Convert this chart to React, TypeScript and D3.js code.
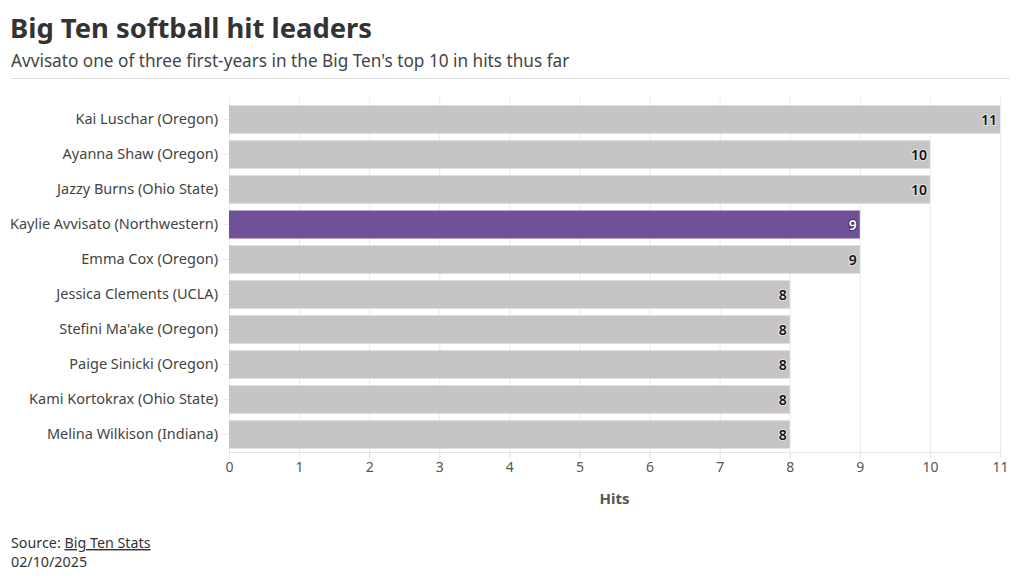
import React, { useEffect, useRef } from 'react'
import * as d3 from 'd3'

const WIDTH = 1020
const HEIGHT = 582

const players = [
  'Kai Luschar (Oregon)',
  'Ayanna Shaw (Oregon)',
  'Jazzy Burns (Ohio State)',
  'Kaylie Avvisato (Northwestern)',
  'Emma Cox (Oregon)',
  'Jessica Clements (UCLA)',
  "Stefini Ma'ake (Oregon)",
  'Paige Sinicki (Oregon)',
  'Kami Kortokrax (Ohio State)',
  'Melina Wilkison (Indiana)',
]
const hits = [11, 10, 10, 9, 9, 8, 8, 8, 8, 8]
const highlight = 'Kaylie Avvisato (Northwestern)'
const xTicks = [0, 1, 2, 3, 4, 5, 6, 7, 8, 9, 10, 11]

const FONT = '"Noto Sans", "Open Sans", sans-serif'
const GRAY = '#c6c4c6'
const PURPLE = '#6f5099'

const App = () => {
  const ref = useRef<SVGSVGElement>(null)

  useEffect(() => {
    const svg = d3.select(ref.current)
    svg.selectAll('*').remove()

    const margin = { left: 229, right: 20, top: 102, bottom: 130 }
    const data = players.map((name, i) => ({ name, value: hits[i] }))

    const x = d3.scaleLinear().domain([0, 11]).range([margin.left, WIDTH - margin.right])
    const y = d3.scaleBand()
      .domain(players)
      .range([margin.top, HEIGHT - margin.bottom])
      .paddingInner(0.2)
      .paddingOuter(0.1)

    // header
    svg.append('text')
      .attr('x', 10).attr('y', 38)
      .attr('font-size', 27.4).attr('font-weight', 700)
      .attr('fill', '#333')
      .text('Big Ten softball hit leaders')
    svg.append('text')
      .attr('x', 11).attr('y', 67)
      .attr('font-size', 17.2)
      .attr('fill', '#444')
      .text("Avvisato one of three first-years in the Big Ten's top 10 in hits thus far")
    svg.append('line')
      .attr('x1', 11).attr('x2', 1010)
      .attr('y1', 78.5).attr('y2', 78.5)
      .attr('stroke', '#ddd')

    // grid
    svg.append('g')
      .selectAll('line')
      .data(xTicks)
      .join('line')
      .attr('x1', (d) => x(d) + 0.5).attr('x2', (d) => x(d) + 0.5)
      .attr('y1', margin.top - 5).attr('y2', HEIGHT - margin.bottom + 6)
      .attr('stroke', '#ebebeb')

    // x axis
    const xAxis = svg.append('g')
      .attr('transform', `translate(0, ${HEIGHT - margin.bottom})`)
      .call(d3.axisBottom(x).tickValues(xTicks).tickSize(6).tickPadding(4))
    xAxis.select('.domain').attr('stroke', '#e6e6e6')
    xAxis.selectAll('.tick line').attr('stroke', '#e6e6e6')
    xAxis.selectAll('text')
      .attr('font-size', 14).attr('font-family', FONT).attr('fill', '#555')

    svg.append('text')
      .attr('x', (x(0) + x(11)) / 2).attr('y', 504)
      .attr('text-anchor', 'middle')
      .attr('font-size', 15).attr('font-weight', 700)
      .attr('fill', '#555')
      .text('Hits')

    // y axis
    const yAxis = svg.append('g')
      .attr('transform', `translate(${margin.left}, 0)`)
      .call(d3.axisLeft(y).tickSize(6).tickPadding(5))
    yAxis.select('.domain').remove()
    yAxis.selectAll('.tick line').attr('stroke', '#eee')
    yAxis.selectAll('text')
      .attr('font-size', 14.5).attr('font-family', FONT).attr('fill', '#444')

    // bars
    const bars = svg.append('g')
      .selectAll('g')
      .data(data)
      .join('g')

    bars.append('rect')
      .attr('x', x(0))
      .attr('y', (d) => y(d.name)!)
      .attr('width', (d) => x(d.value) - x(0))
      .attr('height', y.bandwidth())
      .attr('fill', (d) => (d.name === highlight ? PURPLE : GRAY))

    bars.append('text')
      .attr('x', (d) => x(d.value) - 3)
      .attr('y', (d) => y(d.name)! + y.bandwidth() / 2)
      .attr('dy', '0.36em')
      .attr('text-anchor', 'end')
      .attr('font-size', 14).attr('font-weight', 600)
      .attr('paint-order', 'stroke')
      .attr('stroke', (d) => (d.name === highlight ? '#3b2a55' : '#e4e4e4'))
      .attr('stroke-width', 2)
      .attr('fill', (d) => (d.name === highlight ? '#fff' : '#111'))
      .text((d) => d.value)

    // footer
    const src = svg.append('text')
      .attr('x', 11).attr('y', 548)
      .attr('font-size', 14.3).attr('fill', '#333')
    src.append('tspan').text('Source: ')
    src.append('tspan').attr('text-decoration', 'underline').text('Big Ten Stats')
    svg.append('text')
      .attr('x', 11).attr('y', 567)
      .attr('font-size', 14.3).attr('fill', '#333')
      .text('02/10/2025')
  }, [])

  return (
    <svg
      ref={ref}
      width={WIDTH}
      height={HEIGHT}
      style={{ position: 'absolute', left: 0, top: 0, fontFamily: FONT, background: '#fff' }}
    />
  )
}

export default App
